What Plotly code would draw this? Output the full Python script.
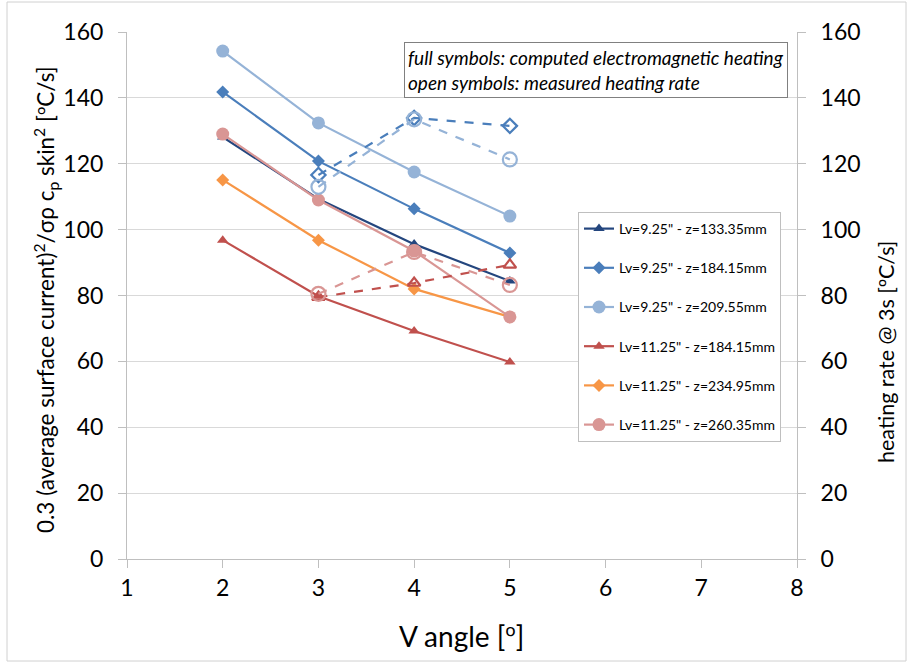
import plotly.graph_objects as go

angles = [2, 3, 4, 5]
angles_meas = [3, 4, 5]

names = ['Lv=9.25" - z=133.35mm', 'Lv=9.25" - z=184.15mm', 'Lv=9.25" - z=209.55mm',
         'Lv=11.25" - z=184.15mm', 'Lv=11.25" - z=234.95mm', 'Lv=11.25" - z=260.35mm']
computed = [
    [128.1, 109.3, 95.6, 84.4],
    [141.8, 120.8, 106.3, 92.9],
    [154.2, 132.4, 117.5, 104.1],
    [96.8, 79.8, 69.2, 59.8],
    [115.1, 96.8, 82.0, 73.5],
    [129.0, 109.0, 93.5, 73.5],
]
colors = ["#24467e", "#4a7ebb", "#95b3d7", "#c0504d", "#f79646", "#d99694"]
symbols = ["triangle-up", "diamond", "circle", "triangle-up", "diamond", "circle"]
sizes = [10, 10, 13, 10, 10, 13]

# measured heating rate (secondary axis): index into series
meas_idx = [1, 2, 3, 5]
measured = [
    [116.6, 133.9, 131.5],
    [113.0, 133.5, 121.3],
    [79.5, 83.8, 89.3],
    [80.5, 93.2, 83.2],
]

fig = go.Figure()
for i, (n, vals) in enumerate(zip(names, computed)):
    fig.add_trace(go.Scatter(
        x=angles, y=vals, name=n, mode="lines+markers",
        line=dict(color=colors[i], width=2.2),
        marker=dict(symbol=symbols[i], size=sizes[i], color=colors[i]),
        legendgroup=f"g{i}"))

for k, i in enumerate(meas_idx):
    fig.add_trace(go.Scatter(
        x=angles_meas, y=measured[k], yaxis="y2", showlegend=False, mode="lines+markers",
        line=dict(color=colors[i], width=2.2, dash="dash"),
        marker=dict(symbol=symbols[i] + "-open", size=sizes[i] + 1, color=colors[i],
                    line=dict(width=2.2, color=colors[i]))))

fnt = "Lato, 'Open Sans', sans-serif"
grid = "#d9d9d9"
axc = "#bfbfbf"
deg = "<span style='font-family:Open Sans'>º</span>"


def px_x(px):
    return (px - 127) / 670


def px_y(py):
    return (559 - py) / 527


fig.update_layout(
    width=908, height=663,
    margin=dict(l=127, r=111, t=32, b=104),
    paper_bgcolor="white", plot_bgcolor="white",
    font=dict(family=fnt, color="#000000"),
    xaxis=dict(range=[1, 8], dtick=1, tick0=1, showgrid=False,
               showline=True, linecolor=axc, linewidth=1,
               ticks="outside", ticklen=8, tickcolor=axc,
               tickfont=dict(size=23), zeroline=False),
    yaxis=dict(range=[0, 160], dtick=20, showgrid=True, gridcolor=grid, gridwidth=1,
               showline=True, linecolor=axc, zeroline=False,
               tickfont=dict(size=23), ticks="outside", ticklen=8, tickcolor=axc,
               ticklabelstandoff=10),
    yaxis2=dict(range=[0, 160], dtick=20, overlaying="y", side="right", showgrid=False,
                showline=True, linecolor=axc, zeroline=False,
                tickfont=dict(size=23), ticks="outside", ticklen=8, tickcolor=axc,
                ticklabelstandoff=10),
    legend=dict(x=px_x(578), y=px_y(212), xanchor="left", yanchor="top",
                bgcolor="white", bordercolor=axc, borderwidth=1,
                font=dict(size=14), tracegroupgap=18, itemwidth=30),
    annotations=[
        dict(x=px_x(404), y=px_y(42), xref="paper", yref="paper",
             xanchor="left", yanchor="top", align="left", showarrow=False,
             text="<i>full symbols: computed electromagnetic heating<br>open symbols: measured heating rate</i>",
             font=dict(size=19), bordercolor="#808080", borderwidth=1, borderpad=3, bgcolor="white"),
        dict(x=px_x(461), y=px_y(636), xref="paper", yref="paper",
             xanchor="center", yanchor="middle", showarrow=False,
             text="V angle [" + deg + "]", font=dict(size=28)),
        dict(x=px_x(45), y=px_y(300), xref="paper", yref="paper",
             xanchor="center", yanchor="middle", showarrow=False, textangle=-90,
             text="0.3 (average surface current)<sup>2</sup>/σρ c<sub>p</sub> skin<sup>2</sup> [" + deg + "C/s]",
             font=dict(size=22.5)),
        dict(x=px_x(885), y=px_y(352), xref="paper", yref="paper",
             xanchor="center", yanchor="middle", showarrow=False, textangle=-90,
             text="heating rate @ 3s [" + deg + "C/s]", font=dict(size=21.5)),
    ],
    shapes=[dict(type="rect", xref="paper", yref="paper",
                 x0=px_x(7), x1=px_x(906),
                 y0=px_y(661), y1=px_y(2),
                 line=dict(color="#d0d0d0", width=1), layer="below")],
)

fig.write_html("out.html")
